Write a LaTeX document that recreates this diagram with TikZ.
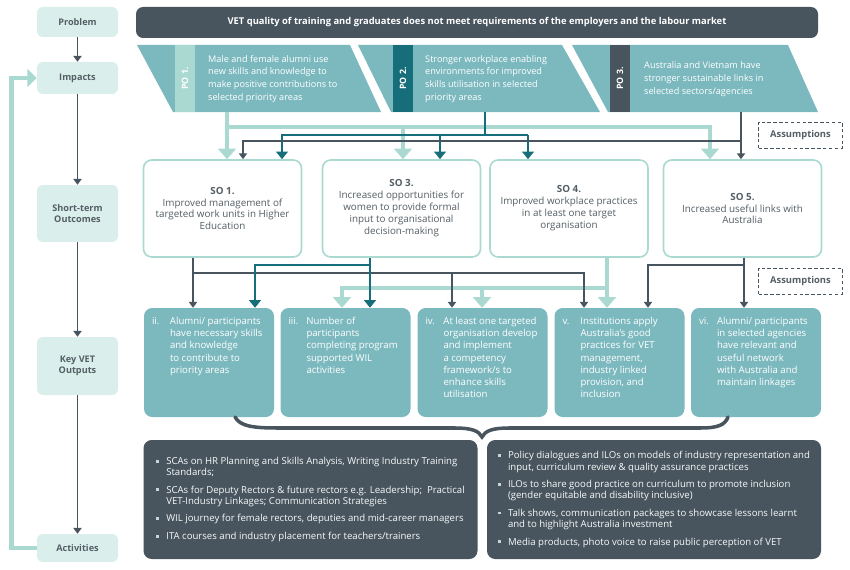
\documentclass[tikz,border=0pt]{standalone}
\usepackage{fontspec}
\setmainfont{Open Sans}
\usetikzlibrary{arrows.meta,calc}
\definecolor{vet_slate}{RGB}{72,84,94}
\definecolor{vet_teal}{RGB}{124,185,191}
\definecolor{vet_dteal}{RGB}{22,110,122}
\definecolor{vet_lteal}{RGB}{170,217,209}
\definecolor{vet_mint}{RGB}{218,239,235}
\definecolor{vet_text}{RGB}{84,94,101}
\definecolor{vet_bullet}{RGB}{200,212,216}
\newcommand{\pxu}{0.3mm}
\newcommand{\sqbul}{\textcolor{vet_bullet}{\rule[1.5pt]{2.5pt}{2.5pt}}}
\tikzstyle{stage}=[rectangle,rounded corners=5pt,fill=vet_mint,text=vet_text,
  font=\bfseries\fontsize{7.8}{9.8}\selectfont,align=center,
  minimum width=81*\pxu,inner sep=1pt]
\tikzstyle{banner}=[rectangle,rounded corners=6pt,fill=vet_slate,text=white,
  font=\bfseries\fontsize{8}{9}\selectfont,minimum width=682*\pxu,minimum height=31*\pxu]
\tikzstyle{potab}=[rectangle,rotate=90,minimum width=67*\pxu,minimum height=20*\pxu,
  inner sep=0pt,text=white,font=\bfseries\fontsize{7.5}{9}\selectfont]
\tikzstyle{potext}=[anchor=west,align=left,inner sep=0pt,text=white,
  font=\fontsize{7.8}{11}\selectfont]
\tikzstyle{so}=[rectangle,rounded corners=7pt,draw=vet_lteal,line width=1.4pt,fill=white,
  text=vet_text,align=center,font=\fontsize{8.4}{10.2}\selectfont,
  minimum width=158*\pxu,minimum height=97*\pxu]
\tikzstyle{outb}=[rectangle,rounded corners=7pt,fill=vet_teal,
  minimum width=130*\pxu,minimum height=109*\pxu]
\tikzstyle{outt}=[anchor=north west,inner sep=0pt,text=white,
  font=\fontsize{8.2}{10.4}\selectfont]
\tikzstyle{actb}=[rectangle,rounded corners=7pt,fill=vet_slate,text=white!94!vet_teal,
  font=\fontsize{8.2}{9.8}\selectfont,minimum width=334*\pxu,minimum height=119*\pxu]
\tikzstyle{assume}=[rectangle,draw=vet_slate,densely dashed,line width=0.7pt,text=vet_text,
  font=\bfseries\fontsize{8}{9}\selectfont,minimum width=84*\pxu,minimum height=26*\pxu]
\tikzstyle{lflow}=[draw=vet_lteal,line width=4.2pt,-{Triangle[width=15pt,length=9pt]}]
\tikzstyle{tflow}=[draw=vet_dteal,line width=2.4pt,-{Triangle[width=10pt,length=6.5pt]}]
\tikzstyle{gflow}=[draw=vet_slate,line width=1.2pt,-{Triangle[width=7pt,length=5pt]}]
\tikzstyle{bracel}=[draw=vet_slate,line width=3pt,line cap=round]

\begin{document}
\begin{tikzpicture}[x=0.3mm,y=-0.3mm]
  \useasboundingbox (0,0) rectangle (850,570);
  % left column
  \node [style=stage,minimum height=30*\pxu] (prob) at (77.5,22) {Problem};
  \node [style=stage,minimum height=32*\pxu] (imp) at (77.5,78) {Impacts};
  \node [style=stage,minimum height=57*\pxu] (sto) at (77.5,213.5) {Short-term\\Outcomes};
  \node [style=stage,minimum height=58*\pxu] (kvo) at (77.5,366) {Key VET\\Outputs};
  \node [style=stage,minimum height=28*\pxu] (act) at (77.5,548) {Activities};
  \draw [style=gflow] (prob) to (imp);
  \draw [style=gflow] (imp) to (sto);
  \draw [style=gflow] (sto) to (kvo);
  \draw [style=gflow] (kvo) to (act);
  \draw [style=lflow,-{Triangle[width=15pt,length=8pt]}] (act.west) -- ++(-25,0) |- (imp.west);

  % problem and impacts
  \node [style=banner] (issue) at (477,22.5) {VET quality of training and graduates does not meet requirements of the employers and the labour market};
  \fill [vet_teal] (137,45) -- (350,45) -- (381,112) -- (173,112) -- cycle;
  \fill [vet_teal] (358,45) -- (562,45) -- (600,112) -- (391,112) -- cycle;
  \fill [vet_teal] (572,45) -- (788,45) -- (818,112) -- (608,112) -- cycle;
  \node [style=potab,fill=vet_lteal] (po1tab) at (185,78.5) {PO 1.};
  \node [style=potab,fill=vet_dteal] (po2tab) at (403,78.5) {PO 2.};
  \node [style=potab,fill=vet_slate] (po3tab) at (620,78.5) {PO 3.};
  \node [style=potext] (po1) at (208,79) {Male and female alumni use\\new skills and knowledge to\\make positive contributions to\\selected priority areas};
  \node [style=potext] (po2) at (425,79) {Stronger workplace enabling\\environments for improved\\skills utilisation in selected\\priority areas};
  \node [style=potext] (po3) at (644,79) {Australia and Vietnam have\\stronger sustainable links in\\selected sectors/agencies};
  \coordinate (po1out) at (227,112);
  \coordinate (po2out) at (485,112);
  \coordinate (po3out) at (741,112);
  \node [style=assume] (asm1) at (800.5,135) {Assumptions};

  % short-term outcomes
  \node [style=so] (so1) at (222.5,208.5) {\textbf{SO 1.}\\Improved management of\\targeted work units in Higher\\Education};
  \node [style=so] (so3) at (401.5,208.5) {\textbf{SO 3.}\\Increased opportunities for\\women to provide formal\\input to organisational\\decision-making};
  \node [style=so] (so4) at (569,208.5) {\textbf{SO 4.}\\Improved workplace practices\\in at least one target\\organisation};
  \node [style=so] (so5) at (742.5,208.5) {\textbf{SO 5.}\\Increased useful links with\\Australia};

  % key outputs
  \node [style=outb] (out2) at (209,362.5) {};
  \node [style=outb] (out3) at (345.5,362.5) {};
  \node [style=outb] (out4) at (482.5,362.5) {};
  \node [style=outb] (out5) at (619.5,362.5) {};
  \node [style=outb] (out6) at (756,362.5) {};
  \node [style=outt] (out2t) at ($(out2.north west)+(8,8)$) {\begin{tabular}{@{}p{5.4mm}@{}l@{}}ii.&Alumni/ participants\\&have necessary skills\\&and knowledge\\&to contribute to\\&priority areas\end{tabular}};
  \node [style=outt] (out3t) at ($(out3.north west)+(8,8)$) {\begin{tabular}{@{}p{5.4mm}@{}l@{}}iii.&Number of\\&participants\\&completing program\\&supported WIL\\&activities\end{tabular}};
  \node [style=outt] (out4t) at ($(out4.north west)+(8,8)$) {\begin{tabular}{@{}p{5.4mm}@{}l@{}}iv.&At least one targeted\\&organisation develop\\&and implement\\&a competency\\&framework/s to\\&enhance skills\\&utilisation\end{tabular}};
  \node [style=outt] (out5t) at ($(out5.north west)+(8,8)$) {\begin{tabular}{@{}p{5.4mm}@{}l@{}}v.&Institutions apply\\&Australia's good\\&practices for VET\\&management,\\&industry linked\\&provision, and\\&inclusion\end{tabular}};
  \node [style=outt] (out6t) at ($(out6.north west)+(8,8)$) {\begin{tabular}{@{}p{5.4mm}@{}l@{}}vi.&Alumni/ participants\\&in selected agencies\\&have relevant and\\&useful network\\&with Australia and\\&maintain linkages\end{tabular}};
  \node [style=assume] (asm2) at (800.5,281) {Assumptions};

  % activities
  \node [style=actb] (actl) at (310.5,499.5) {\begin{tabular}{@{}p{3mm}@{}l@{}}
    \sqbul&SCAs on HR Planning and Skills Analysis, Writing Industry Training\\&Standards;\\[5pt]
    \sqbul&SCAs for Deputy Rectors \& future rectors e.g. Leadership;\ \ Practical\\&VET-Industry Linkages; Communication Strategies\\[5pt]
    \sqbul&WIL journey for female rectors, deputies and mid-career managers\\[5pt]
    \sqbul&ITA courses and industry placement for teachers/trainers\end{tabular}};
  \node [style=actb] (actr) at (654,499.5) {\begin{tabular}{@{}p{3mm}@{}l@{}}
    \sqbul&Policy dialogues and ILOs on models of industry representation and\\&input, curriculum review \& quality assurance practices\\[5pt]
    \sqbul&ILOs to share good practice on curriculum to promote inclusion\\&(gender equitable and disability inclusive)\\[5pt]
    \sqbul&Talk shows, communication packages to showcase lessons learnt\\&and to highlight Australia investment\\[5pt]
    \sqbul&Media products, photo voice to raise public perception of VET\end{tabular}};

  % impacts -> outcomes
  \draw [style=lflow] (po1out) -- (so1.north -| 227,0);
  \draw [style=lflow] (227,127) -| (so5.north -| 710,0);
  \draw [style=lflow] (403,127) -- (so3.north -| 403,0);
  \draw [style=tflow,-] (po2out) |- (528,135);
  \draw [style=tflow] (528,135) -- (so4.north -| 528,0);
  \draw [style=tflow] (485,135) -| (so1.north -| 282,0);
  \draw [style=tflow] (440,135) -- (so3.north -| 440,0);
  \draw [style=gflow] (po3out) -- (so5.north -| 741,0);
  \draw [style=gflow] (741,141) -| (so1.north -| 243,0);

  % outcomes -> outputs
  \draw [style=lflow] (so4.south -| 607,0) -- (out5.north -| 607,0);
  \draw [style=lflow] (607,288) -| (out3.north -| 342,0);
  \draw [style=lflow] (482,288) -- (out4.north -| 482,0);
  \draw [style=gflow] (so1.south -| 193,0) -- (out2.north -| 193,0);
  \draw [style=gflow] (193,273) -| (out5.north -| 584,0);
  \draw [style=gflow] (452,273) -- (out4.north -| 452,0);
  \draw [style=tflow] (so3.south -| 370,0) -- (out3.north -| 370,0);
  \draw [style=tflow] (370,265) -| (out2.north -| 255,0);
  \draw [style=gflow] (so5.south -| 744,0) -- (out6.north -| 744,0);
  \draw [style=gflow] (744,265) -| (out5.north -| 648,0);

  % brace over activities
  \draw [style=bracel] (235,417) .. controls (240,426) and (252,428) .. (278,428) -- (455,428)
    .. controls (472,428) and (479,431) .. (482,437) .. controls (485,431) and (492,428) .. (509,428)
    -- (700,428) .. controls (718,428) and (725,425) .. (728,417);
\end{tikzpicture}
\end{document}
